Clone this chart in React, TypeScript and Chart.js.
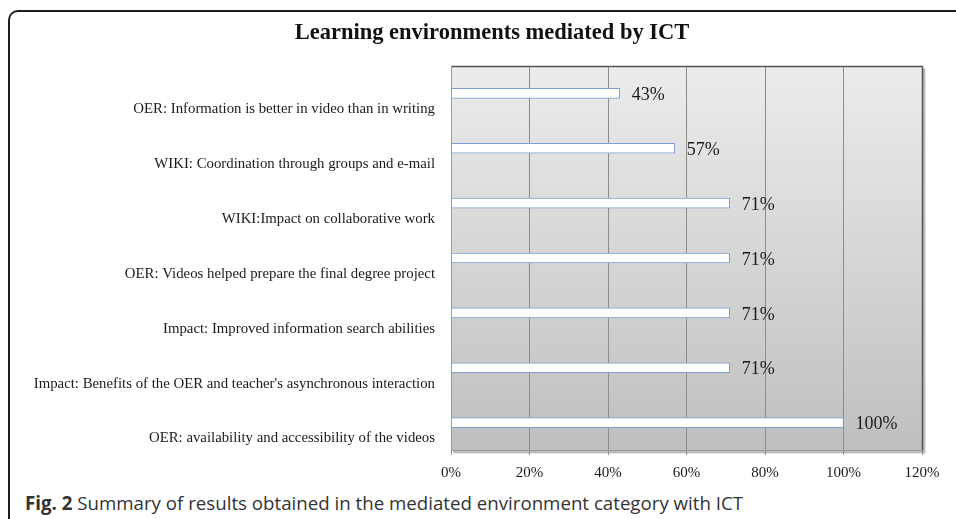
import React, { useEffect, useRef } from "react";
import { Chart, registerables } from "chart.js";

Chart.register(...registerables);

const TITLE = "Learning environments mediated by ICT";
const CATEGORIES = [
  "OER: Information is better in video than in writing",
  "WIKI: Coordination through groups and e-mail",
  "WIKI:Impact on collaborative work",
  "OER: Videos helped prepare the final degree project",
  "Impact: Improved information search abilities",
  "Impact: Benefits of the OER and teacher's asynchronous interaction",
  "OER: availability and accessibility of the videos",
];
const VALUES = [0.43, 0.57, 0.71, 0.71, 0.71, 0.71, 1.0];
const VALUE_LABELS = ["43%", "57%", "71%", "71%", "71%", "71%", "100%"];
const X_TICKS_MAX = 1.2;
const X_TICK_STEP = 0.2;

const SERIF = "'Liberation Serif', 'Times New Roman', serif";

const plotBackground = {
  id: "plotBackground",
  beforeDraw(chart: any) {
    const { ctx, chartArea: a } = chart;
    ctx.save();
    ctx.fillStyle = "rgba(0,0,0,0.18)";
    ctx.fillRect(a.left + 2, a.top + 2, a.right - a.left + 1, a.bottom - a.top + 1);
    ctx.fillStyle = "rgba(0,0,0,0.10)";
    ctx.fillRect(a.left + 3, a.top + 3, a.right - a.left + 1, a.bottom - a.top + 1);
    const g = ctx.createLinearGradient(0, a.top, 0, a.bottom);
    g.addColorStop(0, "#ececec");
    g.addColorStop(1, "#bfbfbf");
    ctx.fillStyle = g;
    ctx.fillRect(a.left, a.top, a.right - a.left, a.bottom - a.top);
    ctx.restore();
  },
  afterDatasetsDraw(chart: any) {
    const { ctx, chartArea: a } = chart;
    ctx.save();
    ctx.lineWidth = 1.5;
    ctx.strokeStyle = "#555555";
    ctx.beginPath();
    ctx.moveTo(a.left, a.top + 0.5);
    ctx.lineTo(a.right + 0.5, a.top + 0.5);
    ctx.lineTo(a.right + 0.5, a.bottom);
    ctx.stroke();
    ctx.lineWidth = 1;
    ctx.strokeStyle = "#9a9a9a";
    ctx.beginPath();
    ctx.moveTo(a.left + 0.5, a.top);
    ctx.lineTo(a.left + 0.5, a.bottom);
    ctx.moveTo(a.left, a.bottom + 0.5);
    ctx.lineTo(a.right, a.bottom + 0.5);
    ctx.stroke();
    ctx.restore();
  },
};

const valueLabels = {
  id: "valueLabels",
  afterDatasetsDraw(chart: any) {
    const { ctx } = chart;
    const meta = chart.getDatasetMeta(0);
    ctx.save();
    ctx.font = `18px ${SERIF}`;
    ctx.fillStyle = "#1a1a1a";
    ctx.textAlign = "left";
    ctx.textBaseline = "middle";
    meta.data.forEach((el: any, i: number) => {
      ctx.fillText(VALUE_LABELS[i], el.x + 12, el.y + 2);
    });
    ctx.restore();
  },
};

export default function App() {
  const ref = useRef<HTMLCanvasElement>(null);

  useEffect(() => {
    if (!ref.current) return;
    const chart = new Chart(ref.current, {
      type: "bar",
      data: {
        labels: CATEGORIES,
        datasets: [
          {
            data: VALUES,
            backgroundColor: "#ffffff",
            borderColor: "#7a9fd2",
            borderWidth: 1,
            barThickness: 10,
            yAxisID: "y",
          },
        ],
      },
      options: {
        indexAxis: "y",
        animation: false,
        responsive: false,
        maintainAspectRatio: false,
        layout: { padding: { left: 0, right: -18, top: 0, bottom: 0 } },
        plugins: {
          legend: { display: false },
          tooltip: { enabled: false },
          title: {
            display: true,
            text: TITLE,
            color: "#111111",
            font: { family: SERIF, size: 22.5, weight: "bold" },
            padding: { top: 8, bottom: 19 },
          },
        },
        scales: {
          x: {
            min: 0,
            max: X_TICKS_MAX,
            ticks: {
              stepSize: X_TICK_STEP,
              color: "#1a1a1a",
              font: { family: SERIF, size: 15 },
              padding: 9,
              callback: (v: any) => `${Math.round(Number(v) * 100)}%`,
            },
            grid: { color: "#8c8c8c", lineWidth: 1, tickLength: 5, tickColor: "#8c8c8c" },
            border: { display: false },
            afterFit: (s: any) => {
              s.height = 40;
            },
          },
          y: {
            position: "left",
            ticks: {
              color: "#1a1a1a",
              font: { family: SERIF, size: 14.8 },
              padding: 16,
              labelOffset: 16,
              autoSkip: false,
            },
            grid: { display: false, drawTicks: false },
            border: { display: false },
            afterFit: (s: any) => {
              s.width = 441;
            },
          },
          yRight: {
            type: "category",
            position: "right",
            labels: CATEGORIES,
            ticks: { display: false },
            grid: { display: false, drawTicks: false },
            border: { display: false },
            afterFit: (s: any) => {
              s.width = 52;
            },
          },
        },
      },
      plugins: [plotBackground, valueLabels],
    });
    return () => chart.destroy();
  }, []);

  return (
    <div>
      <div
        style={{
          position: "absolute",
          left: 8,
          top: 10,
          width: 948,
          height: 509,
          borderTop: "2px solid #1e1e1e",
          borderLeft: "2px solid #1e1e1e",
          borderTopLeftRadius: 10,
          boxSizing: "border-box",
        }}
      />
      <canvas
        ref={ref}
        width={946}
        height={478}
        style={{ position: "absolute", left: 10, top: 12, width: 946, height: 478 }}
      />
      <div
        style={{
          position: "absolute",
          left: 25,
          top: 490,
          fontFamily: "'Open Sans', 'Noto Sans', sans-serif",
          fontSize: 18.7,
          lineHeight: "25px",
          color: "#333333",
          whiteSpace: "nowrap",
        }}
      >
        <b>Fig. 2</b> Summary of results obtained in the mediated environment category with ICT
      </div>
    </div>
  );
}
